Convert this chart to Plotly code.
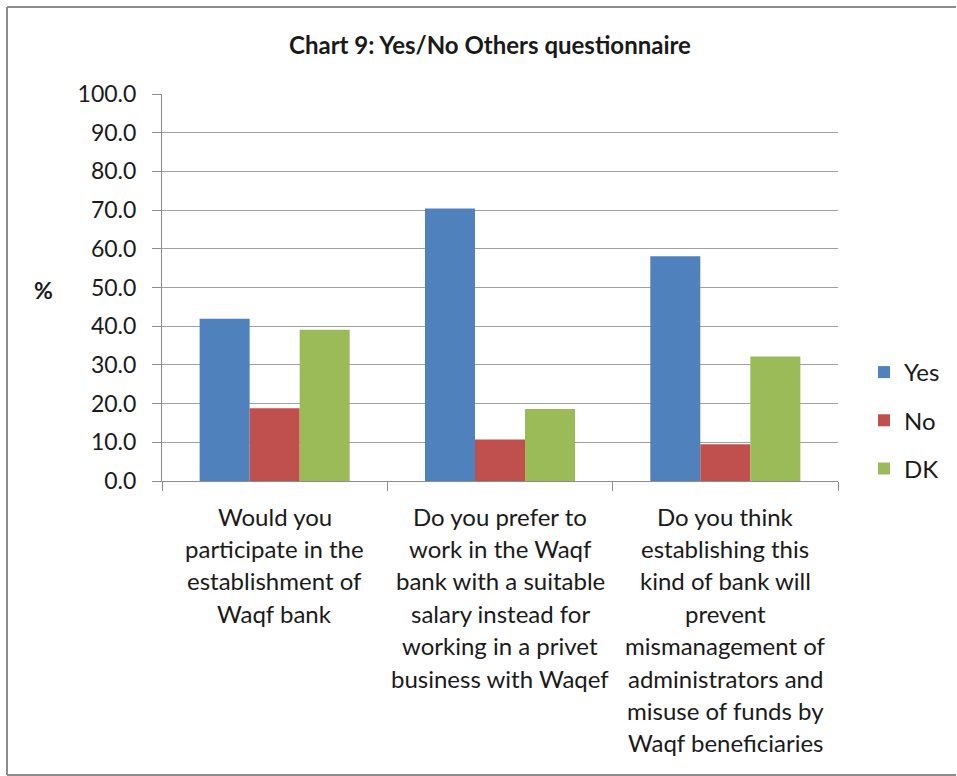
import plotly.graph_objects as go

# Survey questions (each line of the wrapped label separated by <br>)
categories = [
    "Would you<br>participate in the<br>establishment of<br>Waqf bank",
    "Do you prefer to<br>work in the Waqf<br>bank with a suitable<br>salary instead for<br>working in a privet<br>business with Waqef",
    "Do you think<br>establishing this<br>kind of bank will<br>prevent<br>mismanagement of<br>administrators and<br>misuse of funds by<br>Waqf beneficiaries",
]
yes_values = [41.9, 70.4, 58.1]
no_values = [18.8, 10.7, 9.5]
dk_values = [39.1, 18.6, 32.2]
y_ticks = [0, 10, 20, 30, 40, 50, 60, 70, 80, 90, 100]

W, H = 957, 776
ML, MR, MT, MB = 162, 119, 94, 295
PW, PH = W - ML - MR, H - MT - MB

FONT = "Lato, 'Open Sans', sans-serif"
TEXT = "#1a1a1a"
FRAME = "#8c8c8c"


def px_x(px):
    return (px - ML) / PW


def px_y(py):
    return (H - MB - py) / PH


fig = go.Figure()
series = [("Yes", yes_values, "#4F81BD"), ("No", no_values, "#C0504D"), ("DK", dk_values, "#9BBB59")]
for name, vals, color in series:
    fig.add_trace(go.Bar(
        x=categories, y=vals, name=name, legendgroup=name,
        marker=dict(color=color, line=dict(width=0)),
    ))

# Wrapped category labels, one line at a time for Excel-like line spacing
annotations = []
for cat in categories:
    for i, line in enumerate(cat.split("<br>")):
        annotations.append(dict(
            x=cat, xref="x", y=0, yref="paper", yanchor="middle",
            yshift=-(35 + i * 32.4), text=line, showarrow=False,
            font=dict(family=FONT, size=24, color=TEXT),
        ))

annotations.append(dict(
    x=px_x(54), y=px_y(290), xref="paper", yref="paper", text="<b>%</b>",
    xanchor="center", showarrow=False, xshift=-10,
    font=dict(family=FONT, size=23, color=TEXT),
))

# Chart frame: top, left and bottom edges
frame = [
    (7, 7, W - 1, 7),
    (7, 7, 7, 775),
    (7, 775, W - 1, 775),
]
shapes = [
    dict(type="line", xref="paper", yref="paper",
         x0=px_x(a), y0=px_y(b), x1=px_x(c), y1=px_y(d),
         line=dict(color=FRAME, width=2), layer="below")
    for a, b, c, d in frame
]

fig.update_layout(
    width=W, height=H,
    margin=dict(l=ML, r=MR, t=MT, b=MB, pad=0, autoexpand=False),
    paper_bgcolor="white", plot_bgcolor="white",
    barmode="group", bargap=0.334, bargroupgap=0,
    title=dict(text="<b>Chart 9: Yes/No Others questionnaire</b>", x=490 / W,
               xref="container", y=1 - 46 / H, yanchor="middle", xanchor="center",
               font=dict(family=FONT, size=24, color=TEXT)),
    font=dict(family=FONT, color=TEXT),
    showlegend=True,
    legend=dict(x=px_x(864), y=px_y(350), xanchor="left", yanchor="top",
                font=dict(family=FONT, size=24, color=TEXT),
                tracegroupgap=14, itemwidth=30, bgcolor="rgba(0,0,0,0)"),
    annotations=annotations,
    shapes=shapes,
)

fig.update_xaxes(
    showticklabels=False, showline=True, linecolor=FRAME, linewidth=1,
    ticks="outside", tickson="boundaries", ticklen=9, tickcolor=FRAME,
    showgrid=False, fixedrange=True,
)
fig.update_yaxes(
    range=[0, 100], tickvals=y_ticks, tickformat=".1f",
    showline=True, linecolor=FRAME, linewidth=1,
    ticks="outside", ticklen=9, tickcolor=FRAME,
    showgrid=True, gridcolor="#a0a0a0", gridwidth=1, zeroline=False,
    tickfont=dict(family=FONT, size=23, color=TEXT), ticklabelstandoff=11,
)

fig.write_html("out.html")
